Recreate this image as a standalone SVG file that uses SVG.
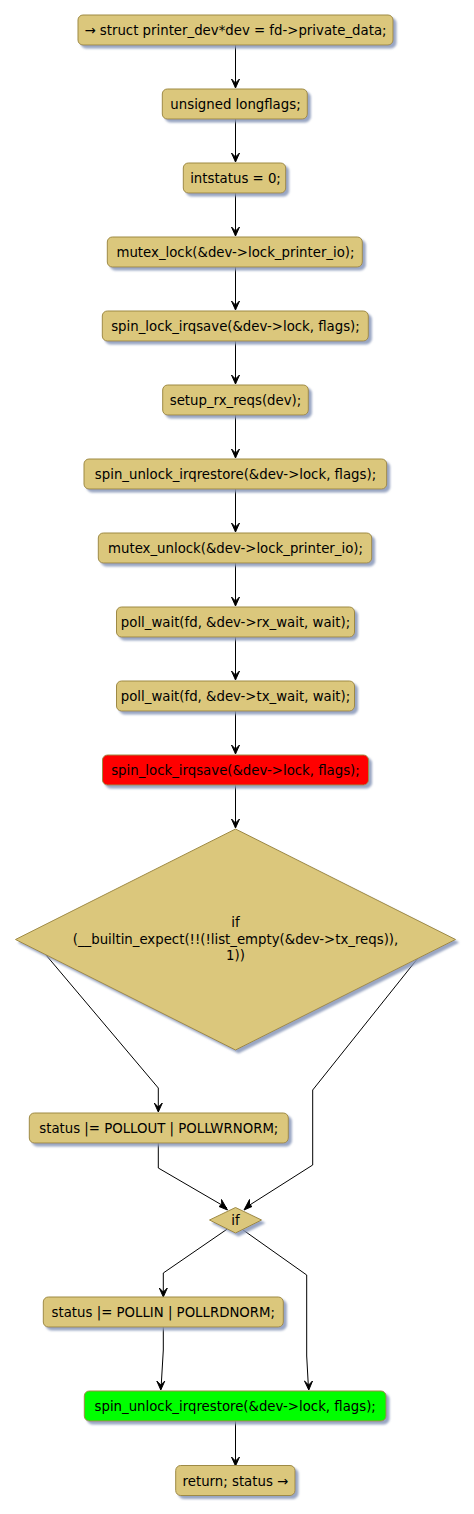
<svg xmlns="http://www.w3.org/2000/svg" width="474" height="1514" viewBox="0 0 474 1514">
<style>
.n{fill:#DBC77B;stroke:#9E8A45;stroke-width:1;filter:url(#sh)}
.red{fill:#FF0000}
.grn{fill:#00FF00}
.t{font-family:"DejaVu Sans",sans-serif;font-size:13.3px;fill:#000;text-anchor:middle}
.e{fill:none;stroke:#000;stroke-width:1}
.ah{fill:#000;stroke:#000;stroke-width:1}
</style>
<defs>
<filter id="sh" x="-10%" y="-20%" width="130%" height="150%">
<feGaussianBlur in="SourceAlpha" stdDeviation="1.2"/>
<feOffset dx="3" dy="3" result="o"/>
<feFlood flood-color="#8796B8" flood-opacity="0.85"/>
<feComposite in2="o" operator="in"/>
<feMerge><feMergeNode/><feMergeNode in="SourceGraphic"/></feMerge>
</filter>
</defs>
<g id="connectors">
<path class="e" d="M235.5,45 V87 M235.5,119 V161 M235.5,193 V235 M235.5,267 V309 M235.5,341 V383 M235.5,415 V457 M235.5,489 V531 M235.5,563 V605 M235.5,637 V679 M235.5,711 V753 M235.5,785 V827"/>
<path class="e" d="M46,955 L158.3,1088 V1111"/>
<path class="e" d="M418,958 L312.7,1090 V1165 L245,1208"/>
<path class="e" d="M158.3,1143 V1168 L227,1208"/>
<path class="e" d="M227.3,1229 L163.3,1273 V1295"/>
<path class="e" d="M241.7,1229 L306.7,1275 V1356 L308.5,1389"/>
<path class="e" d="M163.3,1327 V1350 L161,1389"/>
<path class="e" d="M235.5,1421 V1463"/>
<g id="arrowheads">
<polygon class="ah" points="231.5,79 235.5,88 239.5,79 235.5,83"/>
<polygon class="ah" points="231.5,153 235.5,162 239.5,153 235.5,157"/>
<polygon class="ah" points="231.5,227 235.5,236 239.5,227 235.5,231"/>
<polygon class="ah" points="231.5,301 235.5,310 239.5,301 235.5,305"/>
<polygon class="ah" points="231.5,375 235.5,384 239.5,375 235.5,379"/>
<polygon class="ah" points="231.5,449 235.5,458 239.5,449 235.5,453"/>
<polygon class="ah" points="231.5,523 235.5,532 239.5,523 235.5,527"/>
<polygon class="ah" points="231.5,597 235.5,606 239.5,597 235.5,601"/>
<polygon class="ah" points="231.5,671 235.5,680 239.5,671 235.5,675"/>
<polygon class="ah" points="231.5,745 235.5,754 239.5,745 235.5,749"/>
<polygon class="ah" points="231.5,819 235.5,828 239.5,819 235.5,823"/>
<polygon class="ah" points="154.3,1103 158.3,1112 162.3,1103 158.3,1107"/>
<polygon class="ah" points="219,1206.5 227.5,1210 221.5,1199.5 221.8,1204.4"/>
<polygon class="ah" points="252,1206.5 244,1210 249.5,1199.5 249.5,1204.4"/>
<polygon class="ah" points="159.3,1288 163.3,1297 167.3,1288 163.3,1292"/>
<polygon class="ah" points="156.8,1381 160.8,1390 164.8,1381 160.8,1385"/>
<polygon class="ah" points="304.5,1381 308.8,1390 312.5,1381 308.6,1385"/>
<polygon class="ah" points="231.5,1457 235.5,1466 239.5,1457 235.5,1461"/>
</g>
</g>
<g id="n1"><rect class="n" x="78" y="15" width="315" height="30" rx="5"/><text class="t" x="235.5" y="35">→ struct printer_dev*dev = fd-&gt;private_data;</text></g>
<g id="n2"><rect class="n" x="162.3" y="89" width="145" height="30" rx="5"/><text class="t" x="235.5" y="109">unsigned longflags;</text></g>
<g id="n3"><rect class="n" x="183.3" y="163" width="102.4" height="30" rx="5"/><text class="t" x="235.5" y="183">intstatus = 0;</text></g>
<g id="n4"><rect class="n" x="107.3" y="237" width="255" height="30" rx="5"/><text class="t" x="235.5" y="257">mutex_lock(&amp;dev-&gt;lock_printer_io);</text></g>
<g id="n5"><rect class="n" x="102.3" y="311" width="266" height="30" rx="5"/><text class="t" x="235.5" y="331">spin_lock_irqsave(&amp;dev-&gt;lock, flags);</text></g>
<g id="n6"><rect class="n" x="162.7" y="385" width="145.6" height="30" rx="5"/><text class="t" x="235.5" y="405">setup_rx_reqs(dev);</text></g>
<g id="n7"><rect class="n" x="84" y="459" width="302.7" height="30" rx="5"/><text class="t" x="235.5" y="479">spin_unlock_irqrestore(&amp;dev-&gt;lock, flags);</text></g>
<g id="n8"><rect class="n" x="98.3" y="533" width="273.4" height="30" rx="5"/><text class="t" x="235.5" y="553">mutex_unlock(&amp;dev-&gt;lock_printer_io);</text></g>
<g id="n9"><rect class="n" x="116.5" y="607" width="238" height="30" rx="5"/><text class="t" x="235.5" y="627">poll_wait(fd, &amp;dev-&gt;rx_wait, wait);</text></g>
<g id="n10"><rect class="n" x="116.5" y="681" width="238" height="30" rx="5"/><text class="t" x="235.5" y="701">poll_wait(fd, &amp;dev-&gt;tx_wait, wait);</text></g>
<g id="n11"><rect class="n red" x="102.5" y="755" width="266" height="30" rx="5"/><text class="t" x="235.5" y="775">spin_lock_irqsave(&amp;dev-&gt;lock, flags);</text></g>
<g id="d1"><polygon class="n" points="235.5,829 455.5,939.5 235.5,1050 15.5,939.5"/><text class="t" x="235.5" y="927">if</text><text class="t" x="235.5" y="944">(__builtin_expect(!!(!list_empty(&amp;dev-&gt;tx_reqs)),</text><text class="t" x="235.5" y="960">1))</text></g>
<g id="n12"><rect class="n" x="29.3" y="1113" width="259" height="30" rx="5"/><text class="t" x="158.8" y="1133">status |= POLLOUT | POLLWRNORM;</text></g>
<g id="d2"><polygon class="n" points="235.5,1207.5 261.5,1220 235.5,1233 209.5,1220"/><text class="t" x="235.5" y="1225">if</text></g>
<g id="n13"><rect class="n" x="43.3" y="1297" width="240" height="30" rx="5"/><text class="t" x="163.3" y="1317">status |= POLLIN | POLLRDNORM;</text></g>
<g id="n14"><rect class="n grn" x="84.3" y="1391" width="301.7" height="30" rx="5"/><text class="t" x="235.2" y="1411">spin_unlock_irqrestore(&amp;dev-&gt;lock, flags);</text></g>
<g id="n15"><rect class="n" x="175.7" y="1465.5" width="119.3" height="30" rx="5"/><text class="t" x="235.4" y="1485.5">return; status →</text></g>
</svg>
